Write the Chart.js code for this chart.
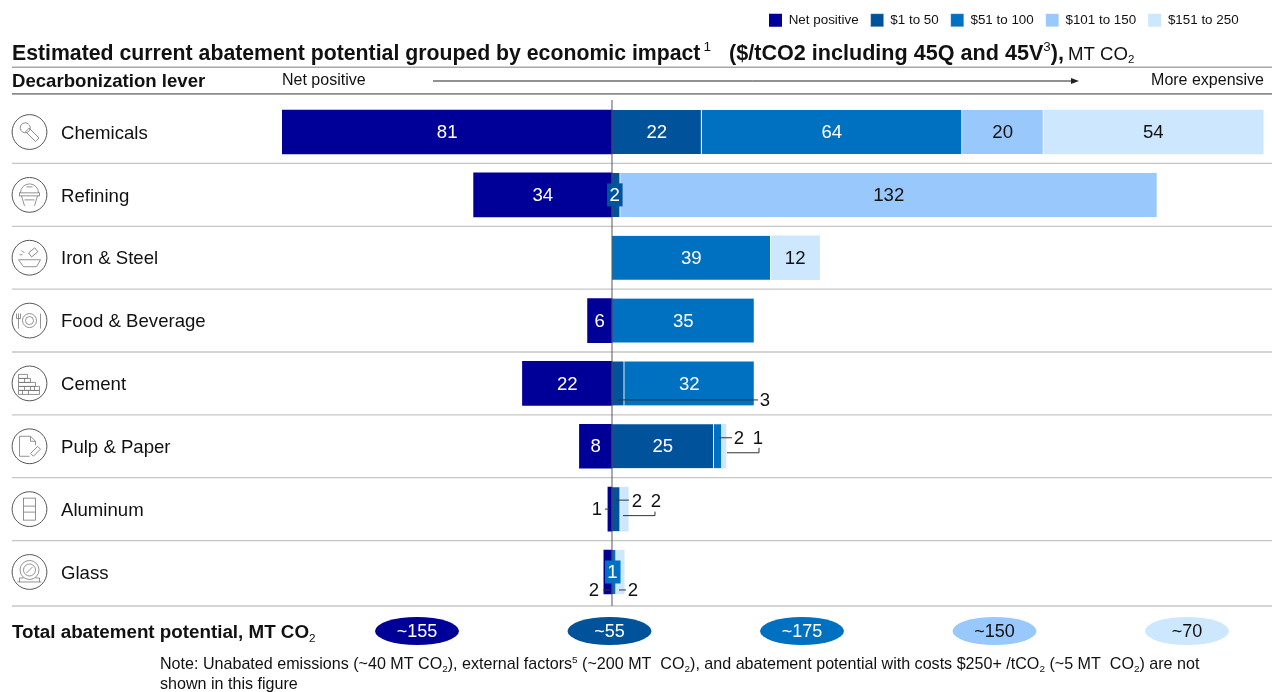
<!DOCTYPE html>
<html><head><meta charset="utf-8">
<style>html,body{margin:0;padding:0;background:#fff}canvas{display:block}</style>
<script src="https://cdn.jsdelivr.net/npm/chart.js@4"></script>
</head><body><canvas id="c" width="1272" height="692"></canvas>
<script>
const categories = ["Chemicals","Refining","Iron & Steel","Food & Beverage","Cement","Pulp & Paper","Aluminum","Glass"];
const seriesNames = ["Net positive","$1 to 50","$51 to 100","$101 to 150","$151 to 250"];
const netPositive = [-81,-34,null,-6,-22,-8,-1,-2];
const usd1to50    = [22,2,null,null,3,25,2,null];
const usd51to100  = [64,null,39,35,32,2,null,1];
const usd101to150 = [20,132,null,null,null,null,null,null];
const usd151to250 = [54,null,12,null,null,1,2,2];
const totals = ["~155","~55","~175","~150","~70"];
const colors = ["#000099","#00529b","#0070c0","#99c8fd","#cce7fe"];
const labelColors = ["#fff","#fff","#fff","#111","#111"];
const FONT = '"Liberation Sans", Arial, sans-serif';

function runs(ctx,x,y,parts,size,color){
  ctx.save();ctx.textAlign='left';ctx.textBaseline='alphabetic';ctx.fillStyle=color||'#111';
  for(const [t,s] of parts){
    let f=size,dy=0,w='';
    if(s==='b')w='bold ';
    if(s==='sup'){f=size*0.62;dy=-size*0.38;}
    if(s==='sub'){f=size*0.62;dy=size*0.2;}
    ctx.font=w+f+'px '+FONT;
    ctx.fillText(t,x,y+dy);
    x+=ctx.measureText(t).width;
  }
  ctx.restore();return x;
}
function text(ctx,t,x,y,font,color,align){
  ctx.font=font+' '+FONT;ctx.fillStyle=color||'#111';ctx.textAlign=align||'center';ctx.textBaseline='middle';ctx.fillText(t,x,y);
}
function line(ctx,pts,color,w){
  ctx.beginPath();pts.forEach((p,i)=>i?ctx.lineTo(p[0],p[1]):ctx.moveTo(p[0],p[1]));
  ctx.strokeStyle=color;ctx.lineWidth=w;ctx.stroke();
}
const iconDraw=[
 (c)=>{ // wrench / hammer
  c.save();c.rotate(-Math.PI/4);c.strokeRect(-2.5,-3,5,14);c.beginPath();c.arc(0,-6,5,0.2,Math.PI*2);c.stroke();c.restore();
 },
 (c)=>{ // refinery tank
  c.beginPath();c.arc(0,-2,9,Math.PI,0);c.stroke();c.strokeRect(-10,-2,20,3);
  c.beginPath();c.moveTo(-8,1);c.lineTo(-5,11);c.moveTo(8,1);c.lineTo(5,11);c.moveTo(-5,5);c.lineTo(5,5);c.moveTo(-3,-8);c.lineTo(3,-8);c.stroke();
 },
 (c)=>{ // bowl + hammer
  c.beginPath();c.moveTo(-11,2);c.lineTo(11,2);c.lineTo(7,9);c.lineTo(-6,9);c.closePath();c.stroke();
  c.save();c.translate(4,-5);c.rotate(-0.7);c.strokeRect(-4,-3,8,5);c.restore();
  c.beginPath();c.moveTo(-10,-3);c.lineTo(-7,-3);c.moveTo(-8,-7);c.lineTo(-5,-5);c.stroke();
 },
 (c)=>{ // plate + cutlery
  c.beginPath();c.arc(0,0,7,0,7);c.moveTo(4,0);c.arc(0,0,4,0,7);c.stroke();
  c.beginPath();c.moveTo(-11,-7);c.lineTo(-11,8);c.moveTo(-13,-7);c.lineTo(-13,-2);c.lineTo(-9,-2);c.lineTo(-9,-7);c.moveTo(11,-7);c.lineTo(11,8);c.stroke();
 },
 (c)=>{ // bricks
  c.beginPath();
  [[-11,-9,9],[-11,-5,12],[-11,-1,17],[-11,3,21],[-11,7,21]].forEach(r=>{c.rect(r[0],r[1],r[2],4);});
  [-5,1,5].forEach(x=>{c.moveTo(x,3);c.lineTo(x,7);});
  [-7,-1].forEach(x=>{c.moveTo(x,7);c.lineTo(x,11);});
  c.moveTo(-5,-5);c.lineTo(-5,-1);c.stroke();
 },
 (c)=>{ // page + pencil
  c.beginPath();c.moveTo(-10,10);c.lineTo(-10,-10);c.lineTo(1,-10);c.lineTo(6,-5);c.lineTo(6,-1);c.moveTo(1,-10);c.lineTo(1,-5);c.lineTo(6,-5);c.moveTo(-10,10);c.lineTo(0,10);c.stroke();
  c.save();c.translate(6,5);c.rotate(Math.PI/4);c.strokeRect(-2,-5,4,10);c.restore();
 },
 (c)=>{ // ingot
  c.strokeRect(-6,-11,12,22);c.beginPath();c.moveTo(-6,-3);c.lineTo(6,-3);c.moveTo(-6,3);c.lineTo(6,3);c.stroke();
 },
 (c)=>{ // gauge
  c.beginPath();c.arc(0,-2,9.5,0,7);c.moveTo(6,-2);c.arc(0,-2,6,0,7);c.moveTo(-3,1);c.lineTo(3,-5);c.moveTo(-12,10);c.lineTo(12,10);c.moveTo(-10,10);c.lineTo(-10,6);c.lineTo(-6,6);c.moveTo(10,10);c.lineTo(10,6);c.lineTo(6,6);c.stroke();
 }
];
const decor={
 id:'decor',
 afterLayout(ch){
  const l=ch.legend;const h=l.bottom-l.top;
  l.left=757;l.right=1272;l.top=1.5;l.bottom=1.5+h;
  const y=ch.scales.y;
  if(!y._shifted){
    y._shifted=true;const orig=y.drawLabels;
    y.drawLabels=function(a){ch.ctx.save();ch.ctx.translate(0,1.5);orig.call(this,a);ch.ctx.restore();};
  }
 },
 beforeDatasetsDraw(ch){
  const c=ch.ctx,y=ch.scales.y;
  c.save();
  // header
  const e1=runs(c,12,59.5,[["Estimated current abatement potential grouped by economic impact","b"]],21.25);
  runs(c,e1+3,59.5,[["1","sup"]],22);
  runs(c,729,59.5,[["($/tCO2 including 45Q and 45V","b"],["3","sup"],["),","b"]],21.6);
  runs(c,1068,59.5,[["MT CO","r"],["2","sub"]],18.6);
  line(c,[[12,67.2],[1272,67.2]],'#a8a8a8',1.4);
  text(c,"Decarbonization lever",12,81.5,'bold 18.6px','#111','left');
  text(c,"Net positive",282,81,'16px','#111','left');
  line(c,[[433,81],[1072,81]],'#222',1);
  c.beginPath();c.moveTo(1079,81);c.lineTo(1071,78);c.lineTo(1071,84);c.closePath();c.fillStyle='#222';c.fill();
  text(c,"More expensive",1264,81,'16px','#111','right');
  line(c,[[12,93.8],[1272,93.8]],'#8c8c8c',1.8);
  // separators
  categories.forEach((n,i)=>{
    const yy=i===categories.length-1?606:(y.getPixelForValue(i)+y.getPixelForValue(i+1))/2;
    line(c,[[12,yy],[1272,yy]],'#c6c6c6',1.3);
    const cy=y.getPixelForValue(i);
    c.save();c.translate(29.5,cy);
    c.beginPath();c.arc(0,0,17.4,0,7);c.strokeStyle='#555';c.lineWidth=1;c.stroke();
    c.strokeStyle='#777';c.lineWidth=0.8;iconDraw[i](c);c.restore();
  });
  // totals row
  runs(c,12,638,[["Total abatement potential, MT CO","b"],["2","sub"]],18.8);
  const cx=[417,609.5,802,994.5,1187];
  totals.forEach((t,i)=>{
    c.beginPath();c.ellipse(cx[i],631,42,14,0,0,7);c.fillStyle=colors[i];c.fill();
    text(c,t,cx[i],632.5,'18px',labelColors[i]);
  });
  // note
  runs(c,160,669,[["Note: Unabated emissions (~40 MT CO","r"],["2","sub"],["), external factors","r"],["5","sup"],[" (~200 MT  CO","r"],["2","sub"],["), and abatement potential with costs $250+ /tCO","r"],["2","sub"],[" (~5 MT  CO","r"],["2","sub"],[") are not","r"]],16.1);
  runs(c,160,689,[["shown in this figure","r"]],16.1);
  c.restore();
 },
 afterDatasetsDraw(ch){
  const c=ch.ctx,x=ch.scales.x,y=ch.scales.y,x0=x.getPixelForValue(0);
  c.save();
  line(c,[[x0,100],[x0,606]],'rgba(90,90,90,0.85)',1.2);
  const boxed=[[1,1],[2,7]];
  const F='18.6px';
  ch.data.datasets.forEach((ds,d)=>{
    const meta=ch.getDatasetMeta(d);
    ds.data.forEach((v,i)=>{
      if(v===null)return;
      const b=meta.data[i],mid=(b.x+b.base)/2,isBox=boxed.some(p=>p[0]===d&&p[1]===i);
      if(isBox){
        c.fillStyle=colors[d];c.fillRect(mid-9,b.y-11.5,15.5,23);
        text(c,String(Math.abs(v)),mid-1.5,b.y+1,F,labelColors[d]);
      }else if(Math.abs(v)>=6){
        text(c,String(Math.abs(v)),mid,b.y+1,F,labelColors[d]);
      }
    });
  });
  const L='#333',ty=i=>y.getPixelForValue(i),lab=(t,dx,i,dy)=>text(c,String(t),x0+dx,ty(i)+dy+0.5,F,'#111');
  // Cement
  line(c,[[x0+6,ty(4)+16.5],[x0+146,ty(4)+16.5]],L,1);lab(Math.abs(usd1to50[4]),153,4,16.5);
  // Pulp & Paper
  line(c,[[x0+107,ty(5)-8.5],[x0+120,ty(5)-8.5]],L,1);lab(usd51to100[5],127,5,-8);lab(usd151to250[5],146,5,-8);
  line(c,[[x0+115,ty(5)+6.5],[x0+147,ty(5)+6.5],[x0+147,ty(5)+1.5]],L,1);
  // Aluminum
  lab(Math.abs(netPositive[6]),-15,6,0);line(c,[[x0-7,ty(6)],[x0-3,ty(6)]],L,1);
  lab(usd1to50[6],25,6,-8);line(c,[[x0+4,ty(6)-9],[x0+17,ty(6)-9]],L,1);
  lab(usd151to250[6],44,6,-8);line(c,[[x0+11,ty(6)+6.5],[x0+43,ty(6)+6.5],[x0+43,ty(6)+2.5]],L,1);
  // Glass
  lab(Math.abs(netPositive[7]),-18,7,18);line(c,[[x0-9,ty(7)+18],[x0-2,ty(7)+18]],L,1);
  lab(usd151to250[7],21,7,18);line(c,[[x0+7,ty(7)+18],[x0+14,ty(7)+18]],L,1);
  c.restore();
 }
};
const seriesData=[netPositive,usd1to50,usd51to100,usd101to150,usd151to250];
const chart=new Chart(document.getElementById('c'),{
 type:'bar',
 data:{labels:categories,datasets:seriesNames.map((n,i)=>({
   label:n,data:seriesData[i],backgroundColor:colors[i],borderColor:'#fff',
   borderWidth:(i>=1&&i<=3)?{right:1,left:0,top:0,bottom:0}:0,borderSkipped:false,barThickness:44,stack:'s'}))},
 options:{
  indexAxis:'y',responsive:false,animation:false,
  layout:{padding:{left:61,right:8,top:60,bottom:88.6}},
  plugins:{
   legend:{position:'top',align:'start',labels:{boxWidth:13,boxHeight:13,padding:12,color:'#111',font:{size:13.4,family:FONT}}},
   tooltip:{enabled:false},title:{display:false}
  },
  scales:{
   x:{type:'linear',display:false,stacked:true,min:-81.08,max:160.2},
   y:{stacked:true,offset:true,grid:{display:false},border:{display:false},
      afterFit(s){s.width=221;},
      ticks:{crossAlign:'far',padding:0,color:'#111',font:{size:18.6,family:FONT},autoSkip:false}}
  }
 },
 plugins:[decor]
});
chart.options.layout.padding.top+=100.6-chart.chartArea.top;
chart.update('none');
</script></body></html>
